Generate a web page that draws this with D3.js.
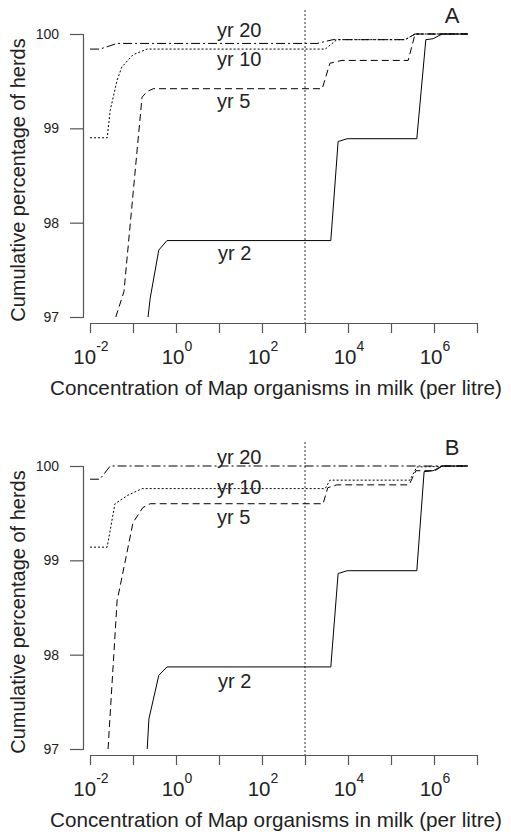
<!DOCTYPE html>
<html><head><meta charset="utf-8">
<script src="https://cdn.jsdelivr.net/npm/d3@7"></script>
<style>
body{margin:0;background:#fff}
svg{display:block}
text{font-family:"Liberation Sans",Arial,Helvetica,sans-serif;fill:#222}
</style>
</head><body>
<svg id="c" width="511" height="832"></svg>
<script>
// ---- data (x = log10 concentration of Map organisms per litre, y = cumulative % of herds)
const panelNames = ["A", "B"];
const seriesNames = ["yr 20", "yr 10", "yr 5", "yr 2"];
const yTicks = [97, 98, 99, 100];
const xDecades = [-2, -1, 0, 1, 2, 3, 4, 5, 6, 7];
const xLabelDecades = [-2, 0, 2, 4, 6];
const referenceLog = 3;

// Panel A
const aYr20X = [-2, -1.77, -1.37, 3.28, 3.65, 5.33, 5.56, 6.79];
const aYr20Y = [99.84, 99.84, 99.90, 99.90, 99.94, 99.94, 100, 100];
const aYr10X = [-2, -1.60, -1.53, -1.37, -1.26, -1.0, -0.67, 3.47, 3.74, 5.33, 5.56, 6.79];
const aYr10Y = [98.90, 98.90, 99.19, 99.51, 99.65, 99.78, 99.84, 99.84, 99.94, 99.94, 100, 100];
const aYr5X = [-1.40, -1.21, -0.79, -0.67, -0.53, 3.40, 3.58, 3.86, 5.40, 5.56, 6.79];
const aYr5Y = [97.0, 97.27, 99.33, 99.39, 99.42, 99.42, 99.69, 99.72, 99.72, 100, 100];
const aYr2X = [-0.65, -0.60, -0.40, -0.21, 3.60, 3.77, 3.98, 5.60, 5.81, 5.98, 6.19, 6.79];
const aYr2Y = [97.0, 97.2, 97.71, 97.81, 97.81, 98.86, 98.89, 98.89, 99.94, 99.95, 100, 100];

// Panel B
const bYr20X = [-2, -1.77, -1.53, 6.79];
const bYr20Y = [99.86, 99.86, 100, 100];
const bYr10X = [-2, -1.60, -1.42, -1.12, -0.79, 3.47, 3.58, 5.44, 5.60, 6.79];
const bYr10Y = [99.14, 99.14, 99.60, 99.69, 99.76, 99.76, 99.85, 99.85, 99.99, 100];
const bYr5X = [-1.58, -1.37, -1.19, -1.0, -0.77, -0.60, 3.42, 3.53, 3.74, 5.42, 5.58, 6.02, 6.19, 6.79];
const bYr5Y = [97.0, 98.57, 98.97, 99.40, 99.56, 99.60, 99.60, 99.77, 99.80, 99.80, 99.95, 99.95, 100, 100];
const bYr2X = [-0.67, -0.63, -0.40, -0.21, 3.60, 3.77, 3.98, 5.60, 5.77, 5.98, 6.19, 6.79];
const bYr2Y = [97.0, 97.32, 97.78, 97.87, 97.87, 98.86, 98.89, 98.89, 99.94, 99.95, 100, 100];

// ---- layout / style
const panelData = [
  [[aYr20X, aYr20Y], [aYr10X, aYr10Y], [aYr5X, aYr5Y], [aYr2X, aYr2Y]],
  [[bYr20X, bYr20Y], [bYr10X, bYr10Y], [bYr5X, bYr5Y], [bYr2X, bYr2Y]]
];
const panelOffsets = [0, 432];
const dashes = ["9,3,2,3", "2,2", "7,4", null];
const labelPos = [
  [[217, 37], [217, 66], [217, 108], [218, 260]],
  [[217, 32], [217, 62], [217, 92], [218, 256]]
];

const svg = d3.select("#c");
const x = d3.scaleLog().domain([1e-2, 1e7]).range([90, 477]);
const y = d3.scaleLinear().domain([97, 100]).range([317, 34]);
const axisColor = "#555";

panelNames.forEach((name, pi) => {
  const g = svg.append("g").attr("transform", `translate(0,${panelOffsets[pi]})`);

  // y axis
  const ya = g.append("g").attr("transform", "translate(83,0)")
    .call(d3.axisLeft(y).tickValues(yTicks).tickSize(13).tickPadding(11).tickFormat(d3.format("d")));
  ya.select(".domain").attr("stroke", axisColor).attr("stroke-width", 1.2);
  ya.selectAll(".tick line").attr("stroke", axisColor).attr("stroke-width", 1.2);
  ya.selectAll(".tick text").style("font-size", "14px").attr("fill", "#222")
    .style("font-family", '"Liberation Sans",Arial,sans-serif');

  // x axis
  const xa = g.append("g").attr("transform", "translate(0,323)")
    .call(d3.axisBottom(x).tickValues(xDecades.map(d => Math.pow(10, d))).tickSize(10).tickSizeOuter(0).tickFormat(() => ""));
  xa.select(".domain").attr("stroke", axisColor).attr("stroke-width", 1.2);
  xa.selectAll(".tick line").attr("stroke", axisColor).attr("stroke-width", 1.2);

  xLabelDecades.forEach(d => {
    const t = g.append("text").attr("x", x(Math.pow(10, d)) + 1).attr("y", 364)
      .attr("text-anchor", "middle").style("font-size", "20.5px");
    t.append("tspan").text("10");
    t.append("tspan").attr("dy", -13).style("font-size", "14px").text(String(d));
  });

  // axis titles
  g.append("text").attr("transform", "translate(25,180) rotate(-90)")
    .attr("text-anchor", "middle").style("font-size", "20px")
    .text("Cumulative percentage of herds");
  g.append("text").attr("x", 276).attr("y", 395).attr("text-anchor", "middle")
    .style("font-size", "20.7px")
    .text("Concentration of Map organisms in milk (per litre)");

  // reference line
  g.append("line").attr("x1", x(Math.pow(10, referenceLog))).attr("x2", x(Math.pow(10, referenceLog)))
    .attr("y1", 10).attr("y2", 323).attr("stroke", "#333").attr("stroke-width", 1).attr("stroke-dasharray", "2,2");

  // series
  const line = d3.line().x(d => x(Math.pow(10, d[0]))).y(d => y(d[1]));
  panelData[pi].forEach((s, si) => {
    const pts = s[0].map((v, i) => [v, s[1][i]]);
    g.append("path").attr("d", line(pts)).attr("fill", "none")
      .attr("stroke", "#000").attr("stroke-width", 1)
      .attr("stroke-dasharray", dashes[si]);
    g.append("text").attr("x", labelPos[pi][si][0]).attr("y", labelPos[pi][si][1])
      .style("font-size", "20px").text(seriesNames[si]);
  });

  // panel letter
  g.append("text").attr("x", 452).attr("y", 23).attr("text-anchor", "middle")
    .style("font-size", "22px").text(name);
});
</script>
</body></html>
